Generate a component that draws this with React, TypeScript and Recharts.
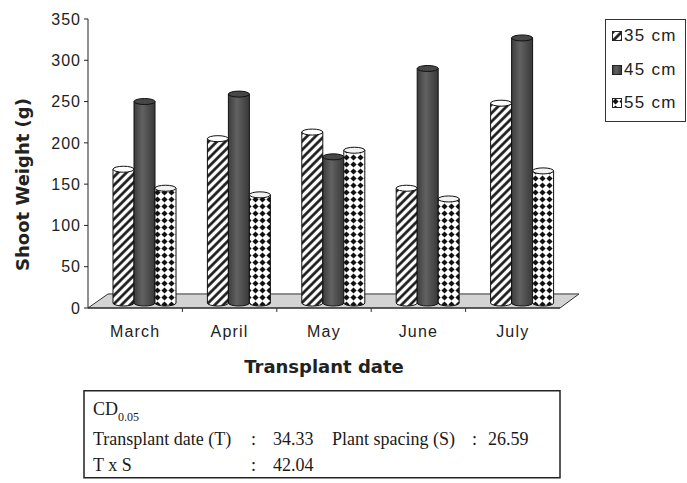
import React from 'react';
import { BarChart, Bar, XAxis, YAxis, Legend, ReferenceArea, Label } from 'recharts';

// shoot weight (g) per transplant month, one list per plant spacing
const months = ['March', 'April', 'May', 'June', 'July'];
const spacing35 = [162, 199, 207, 139, 242];
const spacing45 = [244, 253, 177, 284, 321];
const spacing55 = [139, 131, 185, 126, 160];
const seriesNames = ['35 cm', '45 cm', '55 cm'];
const yTicks = [0, 50, 100, 150, 200, 250, 300, 350];

// CD(0.05) note under the chart
const cdLabels = ['Transplant date (T)', 'Plant spacing (S)', 'T x S'];
const cdValues = ['34.33', '26.59', '42.04'];

const data = months.map((month, i) => ({
  month,
  s35: spacing35[i],
  s45: spacing45[i],
  s55: spacing55[i],
}));

const W = 687;
const H = 390;
const MARGIN = { top: 19, right: 127, bottom: 12, left: 28 };
const Y_AXIS_W = 60;
const X_AXIS_H = 70;
const AXIS_Y = H - MARGIN.bottom - X_AXIS_H;
const PLOT_W = W - MARGIN.left - MARGIN.right - Y_AXIS_W;
const BAND = PLOT_W / months.length;
const FLOOR_DEPTH = 17; // in value units, fake 3d floor

const seriesFills = ['url(#hatch35)', 'url(#dark45)', 'url(#diamond55)'];
const capFills = ['#fff', '#474747', '#f2f2f2'];

const sans = '"Liberation Sans", Arial, sans-serif';
const boldSans = '"DejaVu Sans", Verdana, sans-serif';
const serif = '"Liberation Serif", "Times New Roman", serif';

// 3d-ish cylinder: shifted a bit right/up like the excel depth
const DX = 9;
const DY = 5;
const RY = 3;
const Cylinder = (props: any) => {
  const { x, y, width, height, fill, capFill } = props;
  if (!height || height <= 0) return null;
  const l = x + DX;
  const r = x + DX + width;
  const t = y - DY;
  const b = y + height - DY;
  const rx = width / 2;
  const body = `M${l},${t} L${l},${b} A${rx},${RY} 0 0 0 ${r},${b} L${r},${t} Z`;
  return (
    <g>
      <path d={body} fill={fill} stroke="#111" strokeWidth={1} />
      <ellipse cx={l + rx} cy={t} rx={rx} ry={RY} fill={capFill} stroke="#111" strokeWidth={1} />
    </g>
  );
};

const Floor = (props: any) => {
  const { x, y, width, height } = props;
  const pts = [
    [x, y + height],
    [x + width, y + height],
    [x + width + 19, y],
    [x + 20, y],
  ]
    .map((p) => p.join(','))
    .join(' ');
  return <polygon points={pts} fill="#d3d3d3" stroke="#333" strokeWidth={1} />;
};

const MonthTick = (props: any) => {
  const { x, payload } = props;
  const last = payload.value === months[months.length - 1];
  return (
    <g>
      {!last && (
        <line x1={x + BAND / 2} x2={x + BAND / 2} y1={AXIS_Y} y2={AXIS_Y + 4} stroke="#333" />
      )}
      <text
        x={x}
        y={AXIS_Y + 29}
        textAnchor="middle"
        fontFamily={sans}
        fontSize={16}
        letterSpacing={1.2}
        fill="#222"
      >
        {payload.value}
      </text>
    </g>
  );
};

const LegendBox = () => (
  <div
    style={{
      position: 'relative',
      width: 81,
      height: 103,
      boxSizing: 'border-box',
      border: '1px solid #333',
      background: '#fff',
      fontFamily: sans,
      fontSize: 17,
      letterSpacing: 1.3,
      color: '#222',
    }}
  >
    {seriesNames.map((name, i) => (
      <div
        key={name}
        style={{
          position: 'absolute',
          left: 6,
          top: 7 + i * 33.5,
          height: 18,
          display: 'flex',
          alignItems: 'center',
          whiteSpace: 'nowrap',
        }}
      >
        <svg width={10} height={10}>
          <rect x={0.5} y={0.5} width={9} height={9} fill={seriesFills[i]} stroke="#222" />
        </svg>
        <span style={{ marginLeft: 2 }}>{name}</span>
      </div>
    ))}
  </div>
);

const CdNote = () => {
  const txt = { fontFamily: serif, fontSize: 18, fill: '#1a1a1a' };
  return (
    <svg width={W} height={93} style={{ position: 'absolute', left: 0, top: 390 }}>
      <rect x={84} y={0.75} width={476} height={87} fill="#fff" stroke="#222" strokeWidth={1.5} />
      <text x={93} y={25} {...txt}>
        CD
        <tspan fontSize={12} dy={6}>0.05</tspan>
      </text>
      <text x={93} y={55} {...txt}>{cdLabels[0]}</text>
      <text x={251} y={55} {...txt}>:</text>
      <text x={273} y={55} {...txt}>{cdValues[0]}</text>
      <text x={332} y={55} {...txt}>{cdLabels[1]}</text>
      <text x={472} y={55} {...txt}>:</text>
      <text x={488} y={55} {...txt}>{cdValues[1]}</text>
      <text x={93} y={81} {...txt}>{cdLabels[2]}</text>
      <text x={251} y={81} {...txt}>:</text>
      <text x={273} y={81} {...txt}>{cdValues[2]}</text>
    </svg>
  );
};

export default function App() {
  return (
    <div style={{ position: 'absolute', left: 0, top: 0, width: W, height: 483, background: '#fff' }}>
      <svg width={0} height={0} style={{ position: 'absolute' }}>
        <defs>
          <pattern id="hatch35" patternUnits="userSpaceOnUse" width={6} height={6} patternTransform="rotate(45)">
            <rect width={6} height={6} fill="#fff" />
            <line x1={1.5} y1={0} x2={1.5} y2={6} stroke="#111" strokeWidth={2.6} />
          </pattern>
          <pattern id="diamond55" patternUnits="userSpaceOnUse" width={7} height={7}>
            <rect width={7} height={7} fill="#fff" />
            <polygon points="3.5,0.4 6.6,3.5 3.5,6.6 0.4,3.5" fill="#111" />
          </pattern>
          <linearGradient id="dark45" x1="0" x2="1" y1="0" y2="0">
            <stop offset="0" stopColor="#3c3c3c" />
            <stop offset="0.4" stopColor="#626262" />
            <stop offset="1" stopColor="#383838" />
          </linearGradient>
        </defs>
      </svg>

      <BarChart width={W} height={H} data={data} margin={MARGIN} barGap={0} barSize={21}>
        <ReferenceArea y1={0} y2={FLOOR_DEPTH} shape={<Floor />} />
        <XAxis
          dataKey="month"
          height={X_AXIS_H}
          tickLine={false}
          tick={<MonthTick />}
          axisLine={{ stroke: '#222' }}
        >
          <Label
            content={(p: any) => {
              const vb = p.viewBox;
              return (
                <text
                  x={vb.x + vb.width / 2}
                  y={vb.y + 65}
                  textAnchor="middle"
                  fontFamily={boldSans}
                  fontWeight="bold"
                  fontSize={18}
                  fill="#222"
                >
                  Transplant date
                </text>
              );
            }}
          />
        </XAxis>
        <YAxis
          width={Y_AXIS_W}
          domain={[0, 350]}
          ticks={yTicks}
          interval={0}
          tickSize={4}
          tickMargin={3}
          axisLine={{ stroke: '#222' }}
          tickLine={{ stroke: '#222' }}
          tick={{ fontSize: 16, fill: '#222', fontFamily: sans, letterSpacing: 1 }}
        >
          <Label
            content={(p: any) => {
              const vb = p.viewBox;
              return (
                <text
                  transform={`translate(${vb.x - 6}, ${vb.y + vb.height / 2 + 21}) rotate(-90)`}
                  textAnchor="middle"
                  dominantBaseline="central"
                  fontFamily={boldSans}
                  fontWeight="bold"
                  fontSize={18}
                  fill="#222"
                >
                  Shoot Weight (g)
                </text>
              );
            }}
          />
        </YAxis>
        <Legend
          layout="vertical"
          align="center"
          verticalAlign="middle"
          wrapperStyle={{ left: 605, top: 19, width: 81 }}
          content={() => <LegendBox />}
        />
        <Bar
          dataKey="s35"
          name={seriesNames[0]}
          fill={seriesFills[0]}
          isAnimationActive={false}
          shape={(p: any) => <Cylinder {...p} capFill={capFills[0]} />}
        />
        <Bar
          dataKey="s45"
          name={seriesNames[1]}
          fill={seriesFills[1]}
          isAnimationActive={false}
          shape={(p: any) => <Cylinder {...p} capFill={capFills[1]} />}
        />
        <Bar
          dataKey="s55"
          name={seriesNames[2]}
          fill={seriesFills[2]}
          isAnimationActive={false}
          shape={(p: any) => <Cylinder {...p} capFill={capFills[2]} />}
        />
      </BarChart>

      <CdNote />
    </div>
  );
}
